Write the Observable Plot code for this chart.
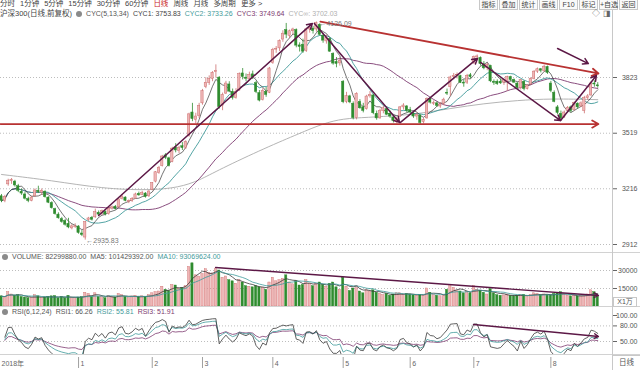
<!DOCTYPE html>
<html><head><meta charset="utf-8">
<script src="https://cdn.jsdelivr.net/npm/d3@7"></script>
<script src="https://cdn.jsdelivr.net/npm/@observablehq/plot@0.6"></script>
<style>
html,body{margin:0;padding:0;background:#fff;}
#wrap{position:relative;width:640px;height:370px;overflow:hidden;background:#fff;font-family:"Liberation Sans",Arial,"Noto Sans CJK SC",sans-serif;color:#555;}
#wrap svg{position:absolute;left:0;}
.row{position:absolute;display:flex;white-space:nowrap;font-size:7px;line-height:8px;z-index:5;align-items:center;}
.btn{box-sizing:border-box;height:10px;border:1px solid #c8c8c8;border-top:none;font-size:7px;line-height:9px;text-align:center;color:#444;background:#fafafa;width:19px;margin-right:1px;}
.ic{display:inline-block;width:6px;height:6px;border-radius:50%;background:#8a8a8a;}
.hl{position:absolute;height:1px;background:#d2d2d2;z-index:4;}
.vl{position:absolute;width:1px;background:#c8c8c8;z-index:4;}
.box{position:absolute;border:1px solid #c8c8c8;font-size:7px;text-align:center;color:#555;background:#fff;z-index:5;}
</style></head><body><div id="wrap"></div>
<script>
// ---------- data (CSI 300 daily, late Nov 2018 – Aug 2019) ----------
const opens = [3175,3150,3240,3258,3255,3230,3200,3185,3160,3150,
3175,3205,3195,3200,3168,3138,3105,3075,3050,3040,
3025,3000,3008,3010,2972,2950,3045,3058,3060,3085,
3078,3090,3078,3108,3118,3115,3160,3168,3145,3150,
3162,3188,3182,3190,3175,3210,3255,3302,3340,3398,
3382,3362,3442,3422,3448,3440,3505,3632,3592,3612,
3682,3770,3792,3815,3852,3822,3670,3735,3785,3745,
3710,3752,3845,3822,3815,3840,3792,3738,3700,3745,
3740,3902,3975,3982,4030,4082,4050,4075,4082,3998,
4002,3968,4085,4090,4085,4110,4050,4020,4032,3952,
3908,3900,3800,3690,3720,3680,3602,3690,3660,3650,
3720,3725,3625,3600,3640,3650,3625,3605,3580,3610,
3660,3665,3645,3625,3610,3615,3580,3600,3705,3680,
3682,3665,3680,3740,3770,3825,3835,3830,3795,3795,
3835,3900,3932,3930,3895,3875,3885,3800,3800,3800,
3795,3800,3825,3810,3790,3765,3800,3760,3785,3815,
3855,3868,3858,3880,3790,3740,3660,3625,3605,3640,
3660,3645,3680,3665,3640,3710,3725,3790,3780];
const highs = [3185,3180,3268,3272,3262,3240,3215,3195,3170,3175,
3215,3230,3215,3205,3172,3145,3110,3085,3060,3048,
3055,3020,3025,3015,2988,3036,3060,3065,3105,3095,
3100,3095,3112,3122,3125,3162,3185,3172,3155,3168,
3192,3198,3202,3195,3206,3250,3310,3338,3398,3408,
3388,3442,3462,3448,3468,3478,3628,3682,3628,3682,
3758,3822,3832,3855,3892,3828,3738,3802,3800,3760,
3762,3848,3872,3842,3852,3858,3802,3752,3762,3768,
3878,3982,3992,4028,4078,4118,4082,4092,4088,4012,
4032,4092,4108,4102,4126.09,4116,4062,4055,4036,3958,
3932,3930,3806,3742,3726,3690,3740,3702,3682,3726,
3746,3730,3640,3650,3665,3660,3640,3610,3605,3665,
3680,3670,3660,3635,3630,3620,3600,3712,3712,3695,
3690,3685,3710,3760,3830,3845,3848,3835,3810,3840,
3845,3940,3946,3935,3910,3900,3890,3810,3810,3815,
3815,3830,3830,3815,3795,3810,3805,3785,3822,3860,
3875,3872,3890,3885,3802,3750,3670,3640,3640,3665,
3668,3690,3685,3690,3720,3730,3800,3805,3795];
const lows = [3140,3140,3230,3240,3225,3195,3180,3155,3140,3145,
3170,3190,3180,3165,3135,3105,3072,3050,3028,3012,
2998,2992,3000,2968,2955,2935.83,3035,3040,3055,3065,
3070,3068,3072,3100,3100,3110,3155,3145,3135,3142,
3158,3175,3178,3165,3168,3205,3248,3295,3335,3375,
3335,3358,3412,3408,3425,3430,3498,3582,3570,3600,
3672,3762,3780,3800,3820,3650,3642,3730,3740,3700,
3705,3748,3810,3800,3805,3812,3735,3690,3695,3715,
3735,3895,3955,3965,4015,4035,4035,4055,3985,3962,
3955,3960,4065,4060,4070,4050,4010,4005,3960,3890,
3876,3885,3680,3680,3680,3592,3592,3650,3630,3645,
3710,3620,3590,3595,3625,3615,3600,3575,3570,3605,
3645,3630,3625,3600,3590,3565,3570,3595,3678,3670,
3660,3655,3670,3725,3720,3810,3815,3790,3770,3785,
3815,3895,3915,3885,3865,3860,3795,3780,3780,3785,
3780,3748,3800,3790,3760,3755,3750,3755,3780,3810,
3845,3848,3852,3840,3740,3685,3620,3588,3600,3630,
3630,3640,3650,3660,3625,3700,3720,3770,3765];
const closes = [3150,3172,3260,3264,3234,3205,3190,3162,3150,3168,
3207,3198,3205,3170,3140,3110,3078,3055,3035,3020,
3005,3011,3011,2975,2964,3035,3054,3047,3088,3075,
3094,3076,3108,3115,3106,3158,3172,3150,3148,3160,
3185,3180,3192,3172,3201,3247,3306,3328,3392,3385,
3340,3435,3425,3440,3438,3470,3622,3596,3610,3669,
3749,3794,3815,3849,3858,3662,3728,3790,3746,3712,
3745,3841,3826,3816,3838,3824,3744,3697,3749,3728,
3872,3973,3980,4022,4062,4057,4075,4085,3997,3990,
3964,4085,4092,4076,4120,4056,4024,4038,3964,3899,
3897,3913,3688,3721,3687,3602,3734,3655,3641,3719,
3728,3628,3600,3640,3655,3620,3610,3585,3598,3660,
3670,3641,3632,3610,3620,3575,3592,3705,3686,3683,
3668,3676,3702,3735,3823,3832,3836,3794,3790,3832,
3825,3935,3938,3896,3873,3893,3802,3794,3787,3791,
3808,3825,3809,3795,3766,3808,3760,3779,3815,3855,
3868,3860,3882,3848,3750,3690,3630,3600,3632,3658,
3640,3685,3660,3682,3710,3720,3790,3785,3775];
// volume in units of 10,000 shares
const volumes = [8500,8000,12000,10000,9000,9500,8000,7500,7000,7200,
9500,8500,7000,7500,8000,8500,8800,7000,8000,7000,
9000,7500,7000,7500,7800,11500,10500,8000,11000,8000,
7800,7000,9000,8200,7500,10500,9500,8000,7000,8200,
9000,8000,8500,7800,9500,11000,12000,12500,16500,14000,
13000,18000,17500,15000,15500,17000,33000,36000,26000,25000,
27000,31000,28000,27500,31000,30000,24000,25000,22000,21000,
19000,22000,20000,17000,16500,16000,17000,16000,15500,14000,
20000,24000,21000,22000,23000,26000,20000,18500,21000,17500,
18000,22000,19000,17000,18500,20000,18000,16500,19000,20000,
16000,14000,24000,16500,13000,15000,17000,12500,11000,13500,
12500,13500,11500,10500,9500,10500,9000,10000,11000,11000,
10000,10500,10000,9500,9000,9800,9500,15000,11500,9500,
9000,8500,9500,14000,18000,15500,13000,12500,11000,12000,
11000,17000,14000,13000,11500,10000,14500,11000,9500,9000,
9200,10000,9000,8500,9000,9500,9800,8500,9500,11000,
10500,9500,10000,9500,9500,10500,11500,12000,9500,9000,
8500,9000,8500,8800,9500,10000,13500,12000,8230];
// long-term cost line (CYC∞), read at sparse bars
const cycInfIdx = [0,15,30,44,53,59,65,79,89,96,102,109,119,125,134,144,154,164,178];
const cycInfVal = [3294,3261,3217,3207,3223,3261,3321,3441,3518,3572,3599,3605,3616,3627,3654,3681,3698,3708,3702];
// axis ticks
const priceTicks = [3823,3519,3216,2912];
const volTicks = [30000,15000];
const rsiTicks = [100,80,50];
const monthStarts = [23,45,60,81,102,122,141,164];
const monthLabels = ["1","2","3","4","5","6","7","8"];
const yearLabel = "2018年";
// hand-drawn trend annotations (bar index, price)
const trendArrows = [
  {x1:29, y1:3070, x2:92.8, y2:4118},
  {x1:93.4, y1:4118, x2:118.8, y2:3578},
  {x1:119.1, y1:3578, x2:142.1, y2:3927},
  {x1:143, y1:3905, x2:166.9, y2:3588},
  {x1:166.9, y1:3588, x2:177.6, y2:3834},
  {x1:166, y1:3981, x2:175.2, y2:3899}
];
const redLines = [
  {x1:95.2, y1:4128, x2:178.2, y2:3845},
  {x1:-0.3, y1:3569, x2:178.2, y2:3569}
];
const volTrend = [{x1:63.9, y1:32500, x2:178.2, y2:9200}];
const rsiTrend = [{x1:140.9, y1:82.7, x2:178.2, y2:59.6}];

// ---------- build ----------
const wrap = document.getElementById("wrap");
const FONT = '"Liberation Sans", Arial, "Noto Sans CJK SC", sans-serif';
const C = {up:"#efb6b6", upLine:"#cd6e6e", dn:"#2f8c2f", c1:"#3a3a3a", c2:"#3f9a9a", c3:"#7d3a70", cInf:"#ababab", trend:"#5c1846", red:"#b83232", grid:"#bdbdbd"};
const W = 640, RIGHT = 28;
const xDomain = [-0.3, 182.4];
const bars = closes.map((c, i) => ({i, o: opens[i], h: highs[i], l: lows[i], c, v: volumes[i]}));
const isUp = d => d.c >= d.o;

function rsiSeries(cl, n) {
  const out = [null];
  let up = null, all = null;
  for (let i = 1; i < cl.length; i++) {
    const d = cl[i] - cl[i - 1];
    if (up === null) { all = Math.abs(d) || 1; up = all * 0.5; }
    up = (Math.max(d, 0) + (n - 1) * up) / n;
    all = (Math.abs(d) + (n - 1) * all) / n;
    out.push(up / all * 100);
  }
  return out;
}
const r6 = rsiSeries(closes, 6), r12 = rsiSeries(closes, 12), r24 = rsiSeries(closes, 24);
const rsiData = bars.map((d, i) => ({i, r1: r6[i], r2: r12[i], r3: r24[i]}));

const baseStyle = {fontFamily: FONT, fontSize: "7px", color: "#666", background: "transparent"};
const axisOpts = {anchor: "right", tickSize: 4, tickPadding: 21, textAnchor: "end", fill: "#555"};

const main = Plot.plot({
  width: W, height: 232, marginLeft: 0, marginRight: RIGHT, marginTop: 0, marginBottom: 0,
  x: {domain: xDomain, axis: null},
  y: {domain: [2912, 3823], range: [224, 57], axis: null},
  color: {type: "identity"},
  style: baseStyle,
  marks: [
    Plot.gridY({ticks: priceTicks, stroke: C.grid, strokeOpacity: 1, strokeDasharray: "1,2"}),
    Plot.line(cycInfIdx.map((i, k) => ({i, v: cycInfVal[k]})), {x: "i", y: "v", stroke: C.cInf, strokeWidth: 0.9, curve: "basis"}),
    Plot.lineY(bars, Plot.windowY({k: 34, anchor: "end", reduce: "mean"}, {x: "i", y: "c", stroke: C.c3, strokeWidth: 0.9})),
    Plot.lineY(bars, Plot.windowY({k: 13, anchor: "end", reduce: "mean"}, {x: "i", y: "c", stroke: C.c2, strokeWidth: 0.9})),
    Plot.lineY(bars, Plot.windowY({k: 5, anchor: "end", reduce: "mean"}, {x: "i", y: "c", stroke: C.c1, strokeWidth: 0.7})),
    Plot.ruleX(bars, {x: "i", y1: "l", y2: "h", stroke: d => isUp(d) ? C.upLine : C.dn, strokeWidth: 0.8}),
    Plot.rect(bars, {x1: d => d.i - 0.34, x2: d => d.i + 0.34, y1: "o", y2: "c",
      fill: d => isUp(d) ? C.up : C.dn, stroke: d => isUp(d) ? C.upLine : C.dn, strokeWidth: 0.5}),
    Plot.arrow(redLines, {x1: "x1", y1: "y1", x2: "x2", y2: "y2", stroke: C.red, strokeWidth: 1.8, headLength: 6}),
    Plot.arrow(trendArrows, {x1: "x1", y1: "y1", x2: "x2", y2: "y2", stroke: C.trend, strokeWidth: 1.5, headLength: 6}),
    Plot.text([d3.maxIndex(highs)], {x: i => i, y: i => highs[i], text: i => "←" + highs[i].toFixed(2), textAnchor: "start", dx: 3, dy: 2, fill: "#777", fontSize: 7}),
    Plot.text([d3.minIndex(lows)], {x: i => i, y: i => lows[i], text: i => "←" + lows[i].toFixed(2), textAnchor: "start", dx: 1, dy: 1, fill: "#777", fontSize: 7}),
    Plot.axisY({...axisOpts, ticks: priceTicks, tickFormat: d3.format("d")})
  ]
});
main.style.top = "20px";
wrap.appendChild(main);

const vol = Plot.plot({
  width: W, height: 54, marginLeft: 0, marginRight: RIGHT, marginTop: 0, marginBottom: 0,
  x: {domain: xDomain, axis: null},
  y: {domain: [0, 30000], range: [54, 18], axis: null},
  color: {type: "identity"},
  style: baseStyle,
  marks: [
    Plot.gridY({ticks: volTicks, stroke: C.grid, strokeOpacity: 1, strokeDasharray: "1,2"}),
    Plot.rect(bars, {x1: d => d.i - 0.34, x2: d => d.i + 0.34, y1: () => 0, y2: "v",
      fill: d => isUp(d) ? C.up : C.dn, stroke: d => isUp(d) ? C.upLine : C.dn, strokeWidth: 0.4}),
    Plot.lineY(bars, Plot.windowY({k: 5, anchor: "end", reduce: "mean"}, {x: "i", y: "v", stroke: C.c1, strokeWidth: 0.8})),
    Plot.lineY(bars, Plot.windowY({k: 10, anchor: "end", reduce: "mean"}, {x: "i", y: "v", stroke: C.c2, strokeWidth: 0.8})),
    Plot.arrow(volTrend, {x1: "x1", y1: "y1", x2: "x2", y2: "y2", stroke: C.trend, strokeWidth: 1.4, headLength: 5}),
    Plot.axisY({...axisOpts, ticks: volTicks, tickFormat: d3.format("d")})
  ]
});
vol.style.top = "252px";
wrap.appendChild(vol);

const rsi = Plot.plot({
  width: W, height: 48, marginLeft: 0, marginRight: RIGHT, marginTop: 0, marginBottom: 0,
  x: {domain: xDomain, axis: null},
  y: {domain: [50, 100], range: [35, 9], axis: null},
  style: baseStyle,
  marks: [
    Plot.gridY({ticks: [80, 50], stroke: C.grid, strokeOpacity: 1, strokeDasharray: "1,2"}),
    Plot.lineY(rsiData, {x: "i", y: "r3", stroke: C.c3, strokeWidth: 0.8, clip: true}),
    Plot.lineY(rsiData, {x: "i", y: "r2", stroke: C.c2, strokeWidth: 0.8, clip: true}),
    Plot.lineY(rsiData, {x: "i", y: "r1", stroke: C.c1, strokeWidth: 0.8, clip: true}),
    Plot.arrow(rsiTrend, {x1: "x1", y1: "y1", x2: "x2", y2: "y2", stroke: C.trend, strokeWidth: 1.4, headLength: 5}),
    Plot.axisY({...axisOpts, ticks: rsiTicks, tickFormat: d3.format(".2f")})
  ]
});
rsi.style.top = "306px";
wrap.appendChild(rsi);

const xax = Plot.plot({
  width: W, height: 16, marginLeft: 0, marginRight: RIGHT, marginTop: 0, marginBottom: 0,
  x: {domain: xDomain, axis: null},
  style: baseStyle,
  marks: [
    Plot.tickX(monthStarts, {x: d => d, stroke: "#a0a0a0", insetTop: 3, insetBottom: 2}),
    Plot.text(monthStarts, {x: d => d, text: (d, k) => monthLabels[k], textAnchor: "start", dx: 2, dy: 1, fill: "#666"}),
    Plot.text([0], {x: d => d, text: () => yearLabel, textAnchor: "start", dx: 0, dy: 1, fill: "#666"})
  ]
});
xax.style.top = "354px";
wrap.appendChild(xax);

// ---------- HTML chrome ----------
function el(cls, css, html) {
  const e = document.createElement("div");
  e.className = cls; e.style.cssText = css; if (html != null) e.innerHTML = html;
  wrap.appendChild(e); return e;
}
const toolbarItems = ["分时","1分钟","5分钟","15分钟","30分钟","60分钟","日线","周线","月线","多周期","更多 &gt;"];
el("row", "left:0;top:0px;font-size:7.5px;gap:5px;color:#444;",
  toolbarItems.map(t => `<span style="${t === "日线" ? "color:#c81e1e" : ""}">${t}</span>`).join(""));
const buttons = ["指标","叠加","统计","画线","F10","标记","+自选","返回"];
el("row", "left:479px;top:0px;", buttons.map(b => `<div class="btn">${b}</div>`).join(""));

el("row", "left:0;top:10px;gap:4px;",
  `<span style="font-size:7.5px;color:#444">沪深300(日线,前复权)</span><span class="ic"></span>` +
  `<span style="color:#555">CYC(5,13,34)</span>` +
  `<span style="color:#444">CYC1: 3753.83</span>` +
  `<span style="color:${C.c2}">CYC2: 3733.26</span>` +
  `<span style="color:${C.c3}">CYC3: 3749.64</span>` +
  `<span style="color:#b0b0b0">CYC∞: 3702.03</span>`);
el("row", "left:592px;top:10px;gap:3px;font-size:8px;color:#666;", "<span>◇</span><span>◨</span>");

el("row", "left:2px;top:253px;gap:4px;",
  `<span class="ic"></span><span>VOLUME: 82299880.00</span><span>MA5: 101429392.00</span>` +
  `<span style="color:${C.c2}">MA10: 93069624.00</span>`);
el("row", "left:2px;top:308px;gap:4px;",
  `<span class="ic"></span><span>RSI(6,12,24)</span><span>RSI1: 66.26</span>` +
  `<span style="color:${C.c2}">RSI2: 55.81</span><span style="color:${C.c3}">RSI3: 51.91</span>`);

el("hl", "left:0;top:252px;width:640px;");
el("hl", "left:0;top:306px;width:640px;");
el("hl", "left:0;top:354px;width:640px;");
el("vl", "left:612px;top:10px;height:360px;");
el("box", "left:613px;top:297px;width:22px;height:8px;line-height:8px;", "X1万");
el("box", "left:612px;top:355px;width:27px;height:14px;line-height:14px;font-size:7.5px;", "日线");
</script></body></html>
